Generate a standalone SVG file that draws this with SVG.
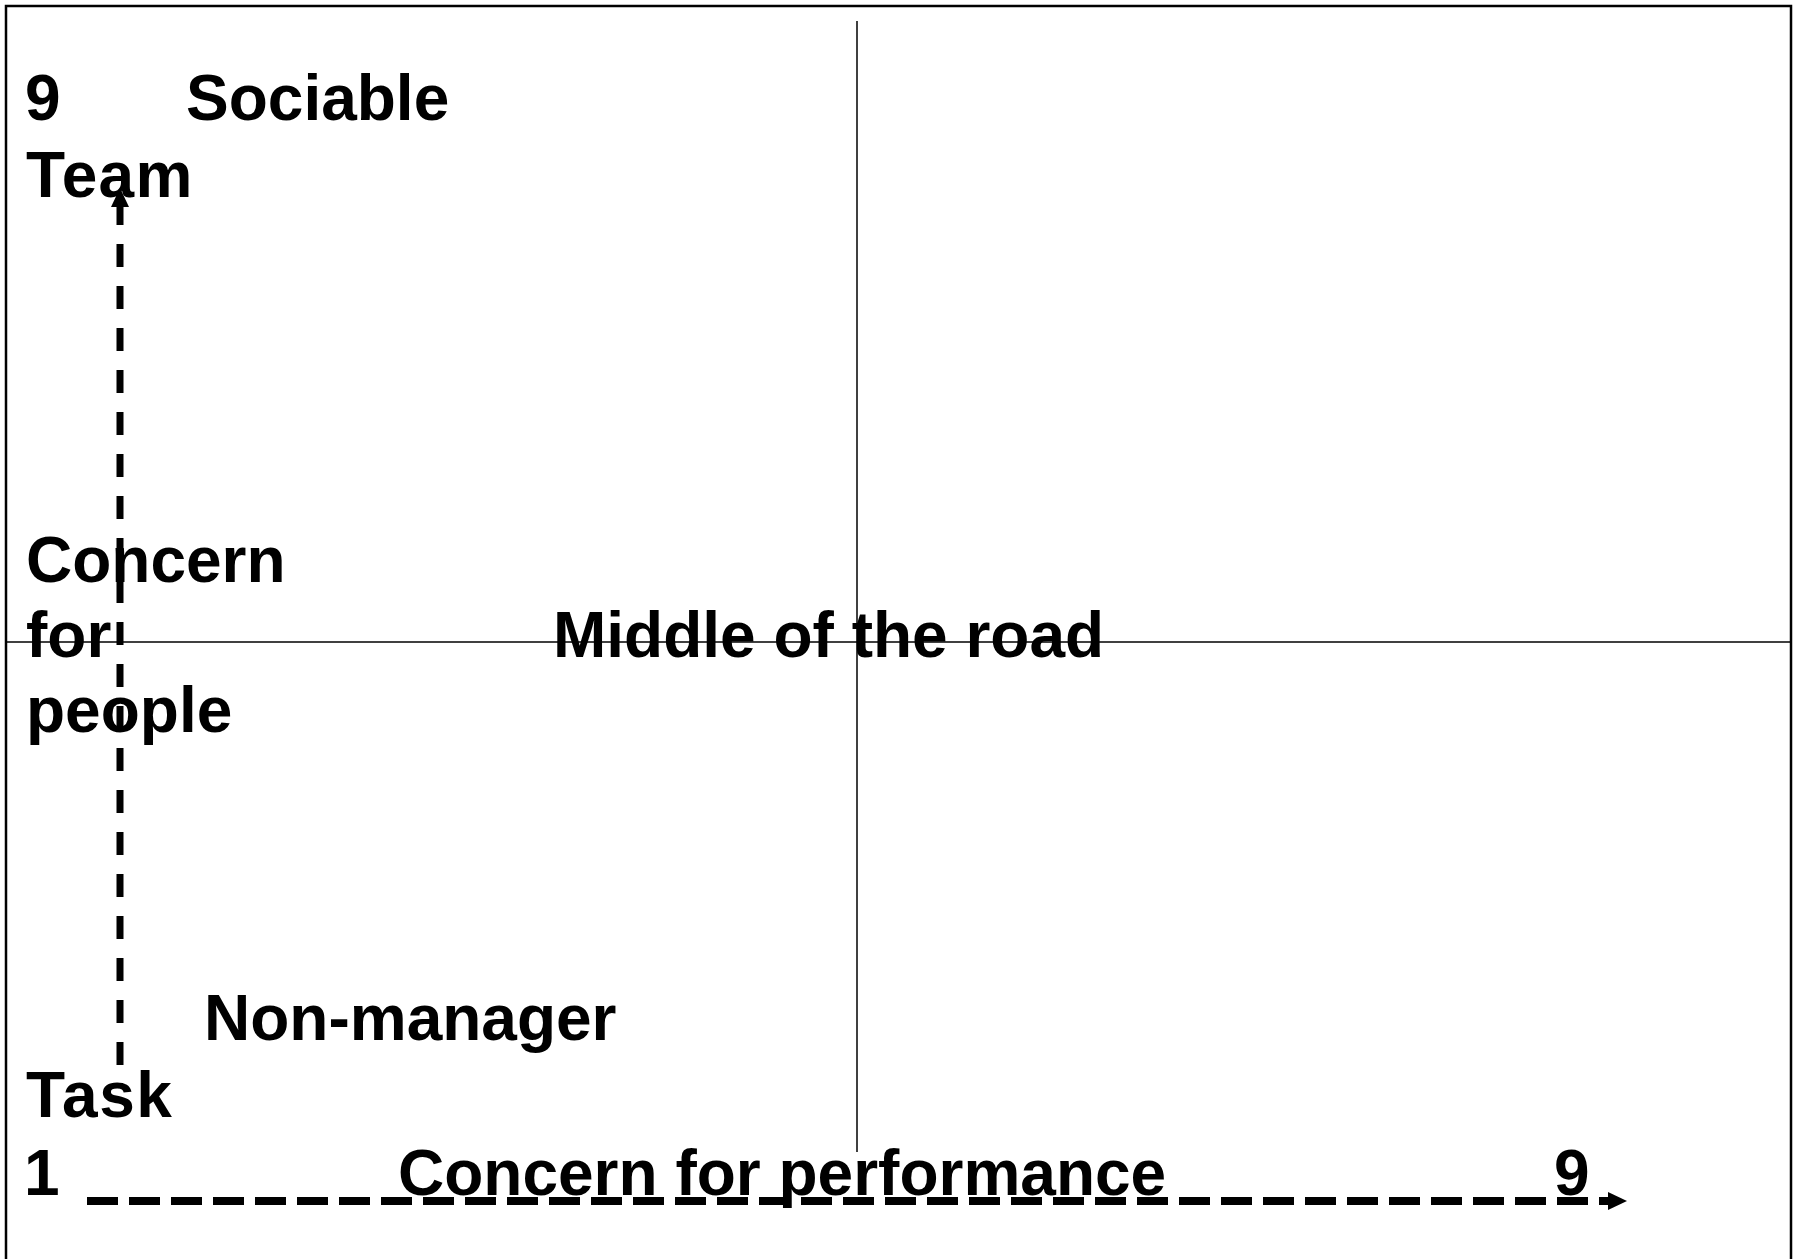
<svg xmlns="http://www.w3.org/2000/svg" width="1797" height="1259" viewBox="0 0 1797 1259">
  <style>
    .lbl { font-family: "Liberation Sans", Arial, sans-serif; font-weight: bold; font-size: 64px; fill: #000; }
    .frame { fill: none; stroke: #000; stroke-width: 2.5; }
    .grid { stroke: #000; stroke-width: 1.5; fill: none; }
    .axis { stroke: #000; fill: none; }
  </style>
  <defs>
    <marker id="head" markerUnits="userSpaceOnUse" markerWidth="20" markerHeight="18" refX="0" refY="9" orient="auto">
      <path d="M0,0 L19,9 L0,18 Z" fill="#000"/>
    </marker>
  </defs>
  <rect width="1797" height="1259" fill="#fff"/>

  <!-- outer frame (runs past the bottom edge) -->
  <rect class="frame" x="6" y="6" width="1785" height="1300"/>

  <!-- quadrant dividers -->
  <g id="grid">
    <line class="grid" x1="857" y1="21" x2="857" y2="1152"/>
    <line class="grid" x1="6" y1="642" x2="1791" y2="642"/>
  </g>

  <!-- axes -->
  <g id="connectors">
    <path class="axis" d="M120,1065 L120,207" stroke-width="7" stroke-dasharray="23 19" marker-end="url(#head)"/>
    <path class="axis" d="M87,1201 L1608,1201" stroke-width="8" stroke-dasharray="31 11" marker-end="url(#head)"/>
  </g>

  <g id="top-left">
    <text class="lbl" x="25" y="120">9</text>
    <text class="lbl" x="186" y="120">Sociable</text>
    <text class="lbl" x="26" y="197" letter-spacing="1.3">Team</text>
  </g>

  <g id="y-axis-label">
    <text class="lbl" x="26" y="582">Concern</text>
    <text class="lbl" x="26" y="657">for</text>
    <text class="lbl" x="26" y="732">people</text>
  </g>

  <g id="middle">
    <text class="lbl" x="553" y="657">Middle of the road</text>
  </g>

  <g id="non-manager">
    <text class="lbl" x="204" y="1040">Non-manager</text>
  </g>

  <g id="bottom-left">
    <text class="lbl" x="26" y="1117" letter-spacing="1.6">Task</text>
    <text class="lbl" x="24" y="1195">1</text>
  </g>

  <g id="x-axis-label">
    <text class="lbl" x="398" y="1195">Concern for performance</text>
    <text class="lbl" x="1554" y="1195">9</text>
  </g>
</svg>
